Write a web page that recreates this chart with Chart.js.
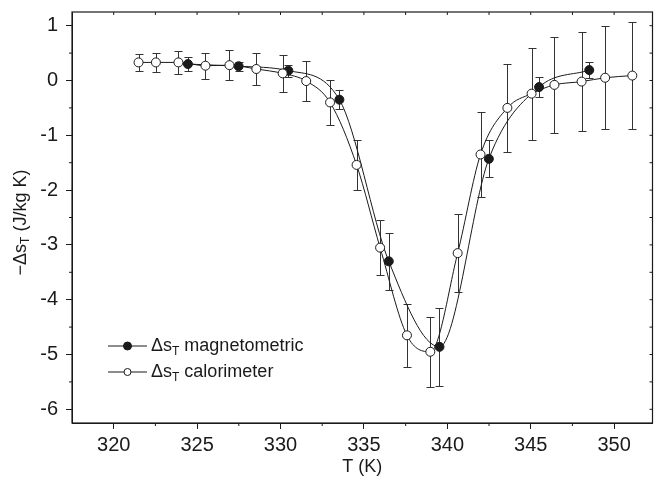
<!DOCTYPE html>
<html>
<head>
<meta charset="utf-8">
<script src="https://cdn.jsdelivr.net/npm/chart.js@4/dist/chart.umd.min.js"></script>
<style>
  body { margin: 0; background: #fff; }
  #wrap { width: 658px; height: 477px; }
</style>
</head>
<body>
<div id="wrap"><canvas id="grafico"></canvas></div>
<script>
// magnetometric data (filled circles)
const magT = [324.45, 327.49, 330.47, 333.53, 336.49, 339.53, 342.49, 345.5, 348.51];
const magS = [0.30, 0.26, 0.18, -0.35, -3.30, -4.86, -1.43, -0.12, 0.19];
const magErr = [0.13, 0.08, 0.11, 0.17, 0.52, 0.71, 0.34, 0.18, 0.15];

// calorimeter data (open circles)
const calT = [321.49, 322.53, 323.88, 325.5, 326.94, 328.55, 330.13, 331.54, 332.97, 334.56, 335.97,
  337.58, 338.98, 340.62, 341.99, 343.6, 345.05, 346.42, 348.05, 349.46, 351.09];
const calS = [0.33, 0.33, 0.33, 0.27, 0.28, 0.21, 0.13, -0.01, -0.40, -1.54, -3.05,
  -4.65, -4.95, -3.15, -1.35, -0.50, -0.24, -0.08, -0.02, 0.05, 0.09];
const calErr = [0.15, 0.18, 0.21, 0.24, 0.27, 0.30, 0.34, 0.37, 0.41, 0.46, 0.50,
  0.58, 0.64, 0.71, 0.77, 0.81, 0.84, 0.87, 0.90, 0.94, 0.97];

// tick labels
const xTicks = [320, 325, 330, 335, 340, 345, 350];
const yTicks = [-6, -5, -4, -3, -2, -1, 0, 1];

const fonte = '"Liberation Sans", Arial, Helvetica, sans-serif';
const preto = '#1a1a1a';

function pontos(xs, ys) {
  return xs.map((x, i) => ({ x: x, y: ys[i] }));
}

// error bars, drawn under the markers
const barrasErro = {
  id: 'barrasErro',
  beforeDatasetsDraw(chart) {
    const ctx = chart.ctx;
    const sx = chart.scales.x, sy = chart.scales.y;
    ctx.save();
    ctx.strokeStyle = '#333';
    ctx.lineWidth = 1;
    chart.data.datasets.forEach(ds => {
      ds.data.forEach((p, i) => {
        const px = Math.round(sx.getPixelForValue(p.x)) + 0.5;
        const top = Math.round(sy.getPixelForValue(p.y + ds.erros[i])) + 0.5;
        const bot = Math.round(sy.getPixelForValue(p.y - ds.erros[i])) + 0.5;
        ctx.beginPath();
        ctx.moveTo(px, top); ctx.lineTo(px, bot);
        ctx.moveTo(px - 4, top); ctx.lineTo(px + 4, top);
        ctx.moveTo(px - 4, bot); ctx.lineTo(px + 4, bot);
        ctx.stroke();
      });
    });
    ctx.restore();
  }
};

// frame, minor ticks, y title and legend
const moldura = {
  id: 'moldura',
  afterDraw(chart) {
    const ctx = chart.ctx;
    const a = chart.chartArea;
    const sx = chart.scales.x, sy = chart.scales.y;
    ctx.save();
    ctx.strokeStyle = preto;
    ctx.lineWidth = 1.2;
    ctx.strokeRect(a.left, a.top, a.right - a.left, a.bottom - a.top);

    ctx.lineWidth = 1;
    ctx.beginPath();
    for (let v = 317.5; v <= 352.5; v += 2.5) {
      const px = sx.getPixelForValue(v);
      if (px < a.left + 1 || px > a.right - 1) continue;
      const menor = v % 5 !== 0;
      if (menor) { ctx.moveTo(px, a.bottom); ctx.lineTo(px, a.bottom + 3); }
      ctx.moveTo(px, a.top); ctx.lineTo(px, a.top + 3);
    }
    for (let v = -6; v <= 1; v += 0.5) {
      const py = sy.getPixelForValue(v);
      if (v % 1 !== 0) { ctx.moveTo(a.left, py); ctx.lineTo(a.left - 3, py); }
      ctx.moveTo(a.right, py); ctx.lineTo(a.right - 3, py);
    }
    ctx.stroke();

    // y axis title with subscript
    ctx.fillStyle = preto;
    ctx.textBaseline = 'middle';
    ctx.translate(21, (a.top + a.bottom) / 2 + 5);
    ctx.rotate(-Math.PI / 2);
    const partes = [['\u2212\u0394s', 18, 0], ['T', 12, 5], [' (J/kg K)', 18, 0]];
    let larg = 0;
    partes.forEach(p => { ctx.font = p[1] + 'px ' + fonte; larg += ctx.measureText(p[0]).width; });
    let cx = -larg / 2;
    partes.forEach(p => {
      ctx.font = p[1] + 'px ' + fonte;
      ctx.fillText(p[0], cx, p[2]);
      cx += ctx.measureText(p[0]).width;
    });
    ctx.setTransform(1, 0, 0, 1, 0, 0);

    // legend
    const itens = [
      { nome: ' magnetometric', cheio: true, y: 346 },
      { nome: ' calorimeter', cheio: false, y: 372 }
    ];
    itens.forEach(it => {
      ctx.strokeStyle = preto;
      ctx.lineWidth = 1;
      ctx.beginPath();
      ctx.moveTo(108, it.y); ctx.lineTo(147, it.y);
      ctx.stroke();
      ctx.beginPath();
      ctx.arc(127.5, it.y, it.cheio ? 4 : 3.5, 0, Math.PI * 2);
      ctx.fillStyle = it.cheio ? preto : '#fff';
      ctx.fill();
      ctx.stroke();
      ctx.fillStyle = preto;
      let tx = 151;
      ctx.font = '18px ' + fonte;
      ctx.fillText('\u0394s', tx, it.y);
      tx += ctx.measureText('\u0394s').width;
      ctx.font = '12px ' + fonte;
      ctx.fillText('T', tx, it.y + 6);
      tx += ctx.measureText('T').width;
      ctx.font = '18px ' + fonte;
      ctx.fillText(it.nome, tx, it.y);
    });
    ctx.restore();
  }
};

function desenharGrafico() {
  const ctx = document.getElementById('grafico');

  const config = {
    type: 'scatter',
    data: {
      datasets: [{
        label: 'magnetometric',
        data: pontos(magT, magS),
        erros: magErr,
        showLine: true,
        cubicInterpolationMode: 'monotone',
        borderColor: preto,
        borderWidth: 1,
        pointRadius: 4.5,
        pointBackgroundColor: preto,
        pointBorderColor: preto,
        pointBorderWidth: 1,
        order: 2
      }, {
        label: 'calorimeter',
        data: pontos(calT, calS),
        erros: calErr,
        showLine: true,
        cubicInterpolationMode: 'monotone',
        borderColor: preto,
        borderWidth: 1,
        pointRadius: 4.5,
        pointBackgroundColor: '#fff',
        pointBorderColor: preto,
        pointBorderWidth: 1,
        order: 1
      }]
    },
    options: {
      responsive: true,
      maintainAspectRatio: false,
      animation: false,
      layout: { padding: { top: 12, right: 1, left: 0, bottom: 0 } },
      scales: {
        x: {
          type: 'linear',
          min: 317.5,
          max: 352.3,
          afterBuildTicks: s => { s.ticks = xTicks.map(v => ({ value: v })); },
          afterFit: s => { s.height = 54; s.paddingLeft = 0; s.paddingRight = 0; },
          ticks: { color: preto, font: { family: fonte, size: 20 }, padding: 4 },
          grid: { drawOnChartArea: false, tickLength: 6, color: preto },
          border: { color: preto, width: 1 },
          title: {
            display: true, text: 'T (K)', color: preto,
            font: { family: fonte, size: 18, lineHeight: 1 }, padding: { top: 0, bottom: 1 }
          }
        },
        y: {
          type: 'linear',
          min: -6.25,
          max: 1.25,
          afterBuildTicks: s => { s.ticks = yTicks.map(v => ({ value: v })); },
          afterFit: s => { s.width = 72; s.paddingTop = 0; s.paddingBottom = 0; },
          ticks: { color: preto, font: { family: fonte, size: 20 }, padding: 8 },
          grid: { drawOnChartArea: false, tickLength: 6, color: preto },
          border: { color: preto, width: 1 }
        }
      },
      plugins: {
        legend: { display: false },
        tooltip: { enabled: false }
      }
    },
    plugins: [barrasErro, moldura]
  };

  new Chart(ctx, config);
}

desenharGrafico();
</script>
</body>
</html>
